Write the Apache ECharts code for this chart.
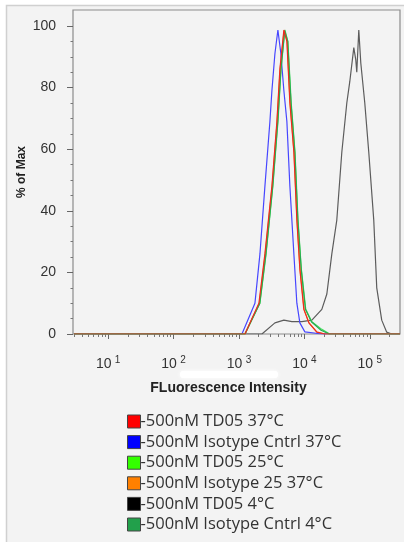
<!DOCTYPE html>
<html><head><meta charset="utf-8">
<script src="https://cdn.jsdelivr.net/npm/echarts@6/dist/echarts.min.js"></script>
<style>html,body{margin:0;padding:0;background:#fff;}#c{width:404px;height:542px;}</style>
</head><body><div id="c"></div>
<script>
// ---- data ----
const seriesNames = ['500nM TD05 37°C','500nM Isotype Cntrl 37°C','500nM TD05 25°C','500nM Isotype 25 37°C','500nM TD05 4°C','500nM Isotype Cntrl 4°C'];
const xMajorTicks = [10, 100, 1000, 10000, 100000];
const yTicks = [0, 20, 40, 60, 80, 100];

const redX = [3, 1235, 2018, 2494, 3190, 3803, 4225, 4864, 5404, 6008, 6914, 7679, 8537, 9818, 11720, 15530, 20550, 290000];
const redY = [0, 0, 10, 26, 48, 69, 86, 98.7, 95, 75, 59, 37, 21, 8, 3.6, 0.6, 0, 0];

const blueX = [3, 1111, 1755, 2093, 2494, 2974, 3190, 3546, 3939, 4377, 4864, 5404, 6008, 6914, 7679, 8537, 10180, 18490, 290000];
const blueY = [0, 0, 10, 26, 48, 69, 79, 91, 98.7, 91, 79, 69, 48, 26, 10, 3.6, 0.7, 0, 0];

const limeX = [3, 1235, 2093, 2600, 3300, 3950, 4400, 5038, 5600, 6300, 7200, 8000, 9000, 10500, 13030, 18490, 24500, 290000];
const limeY = [0, 0, 10, 26, 48, 69, 86, 98.7, 95, 75, 59, 37, 21, 8, 4, 1.5, 0, 0];

const orangeX = [3, 1235, 2050, 2520, 3220, 3830, 4260, 4900, 5450, 6050, 6950, 7720, 8600, 9900, 11800, 15600, 20600, 290000];
const orangeY = [0, 0, 10, 26, 48, 69, 86, 98.5, 95, 75, 59, 37, 21, 8, 3.6, 0.6, 0, 0];

const blackX = [3, 2245, 3546, 4864, 6443, 9156, 13030, 18490, 22070, 26300, 31340, 37380, 44570, 49550, 57020, 61130, 63340, 67970, 72940, 83930, 96580, 115100, 127900, 152400, 181800, 216800, 290000];
const blackY = [0, 0, 3.6, 4.5, 4, 4, 4.5, 8, 13, 26, 37, 59, 75, 82, 93, 89, 85, 98.7, 88, 75, 59, 37, 15, 4.5, 0.6, 0, 0];

const dgreenX = [3, 1235, 2080, 2580, 3280, 3920, 4380, 5000, 5560, 6250, 7150, 7950, 8950, 10400, 12800, 18000, 24000, 290000];
const dgreenY = [0, 0, 10, 26, 48, 69, 86, 98.5, 95, 75, 59, 37, 21, 8, 4, 1.2, 0, 0];

const xAll = [redX, blueX, limeX, orangeX, blackX, dgreenX];
const yAll = [redY, blueY, limeY, orangeY, blackY, dgreenY];

// ---- styling ----
const legendColors = ['#ff0000', '#0000ff', '#33ff00', '#ff8000', '#000000', '#22a04b'];
const lineColors = ['#ee2a22', '#4646ff', '#3ee05a', '#ff8a1a', '#5c5c5c', '#2aa850'];
const zOrder = [10, 4, 5, 3, 2, 6];
const drawOrder = [4, 1, 5, 3, 2, 0];

const minorX = [];
[1, 10, 100, 1000, 10000, 100000].forEach(d => { for (let k = 2; k <= 9; k++) { const v = k * d; if (v >= 3 && v <= 290000) minorX.push(v); } });
const minorY = [];
for (let v = 5; v < 105; v += 5) if (v % 20 !== 0) minorY.push(v);

const FONT = 'Liberation Sans';
const LFONT = 'Open Sans';
const chart = echarts.init(document.getElementById('c'), null, {renderer: 'canvas'});

const series = drawOrder.map(i => ({
  name: seriesNames[i],
  type: 'line',
  xAxisIndex: 0, yAxisIndex: 0,
  data: xAll[i].map((x, j) => [x, yAll[i][j]]),
  showSymbol: false, symbol: 'none',
  smooth: false,
  z: zOrder[i],
  itemStyle: {color: legendColors[i]},
  lineStyle: {color: lineColors[i], width: 1.2},
  animation: false
}));

chart.setOption({
  animation: false,
  backgroundColor: '#ffffff',
  graphic: [
    {type: 'rect', z: -100, silent: true, shape: {x: 6.5, y: 5.5, width: 400, height: 540},
     style: {fill: '#f3f3f3', stroke: '#d0d0d0', lineWidth: 1.5}},
    {type: 'rect', z: 100, silent: true, shape: {x: 180, y: 371, width: 98, height: 7, r: 3},
     style: {fill: '#ffffff', shadowBlur: 4, shadowColor: '#ffffff'}}
  ],
  grid: {left: 73, right: 4, top: 10, bottom: 208, show: true, backgroundColor: '#f3f3f3', borderColor: '#8c8c8c', borderWidth: 1.2},
  legend: {
    orient: 'vertical', left: 127, top: 413, height: 129, padding: 0,
    data: seriesNames,
    icon: 'rect', itemWidth: 13, itemHeight: 13, itemGap: 3.6,
    itemStyle: {borderColor: '#444', borderWidth: 1},
    formatter: n => '-' + n,
    textStyle: {fontFamily: LFONT, fontSize: 16.5, color: '#333', padding: [0, 0, 0, -5], lineHeight: 15},
    selectedMode: false
  },
  xAxis: [{
    type: 'log', min: 2.9, max: 290000, logBase: 10,
    name: 'FLuorescence Intensity', nameLocation: 'middle', nameGap: 47,
    nameTextStyle: {fontFamily: FONT, fontSize: 14, fontWeight: 'bold', color: '#222', padding: [0, 16, 0, 0]},
    axisLine: {show: false},
    splitLine: {show: false},
    axisTick: {show: true, customValues: xMajorTicks, length: 5, inside: false, lineStyle: {color: '#666', width: 1}},
    axisLabel: {
      customValues: xMajorTicks, margin: 21,
      formatter: v => '{a|10} {b|' + Math.round(Math.log10(v)) + '}',
      rich: {
        a: {fontFamily: FONT, fontSize: 14, color: '#333', lineHeight: 16, verticalAlign: 'bottom'},
        b: {fontFamily: FONT, fontSize: 10, color: '#333', lineHeight: 16, verticalAlign: 'top', padding: [0, 0, 8, 0]}
      }
    }
  }, {
    type: 'log', min: 2.9, max: 290000, logBase: 10, position: 'bottom',
    axisLine: {show: false}, splitLine: {show: false},
    axisLabel: {show: false},
    axisTick: {show: true, customValues: minorX, length: 3, inside: false, lineStyle: {color: '#777', width: 1}}
  }],
  yAxis: [{
    type: 'value', min: 0, max: 105.2,
    name: '% of Max', nameLocation: 'middle', nameGap: 45, nameRotate: 90, nameMoveOverlap: false,
    nameTextStyle: {fontFamily: FONT, fontSize: 12, fontWeight: 'bold', color: '#222'},
    axisLine: {show: false}, splitLine: {show: false},
    axisTick: {show: true, customValues: yTicks, length: 6, inside: false, lineStyle: {color: '#666', width: 1}},
    axisLabel: {customValues: yTicks, margin: 17, fontFamily: FONT, fontSize: 14, color: '#333'}
  }, {
    type: 'value', min: 0, max: 105.2, position: 'left',
    axisLine: {show: false}, splitLine: {show: false},
    axisLabel: {show: false},
    axisTick: {show: true, customValues: minorY, length: 2.5, inside: false, lineStyle: {color: '#777', width: 1}}
  }],
  series: series
});
</script></body></html>
